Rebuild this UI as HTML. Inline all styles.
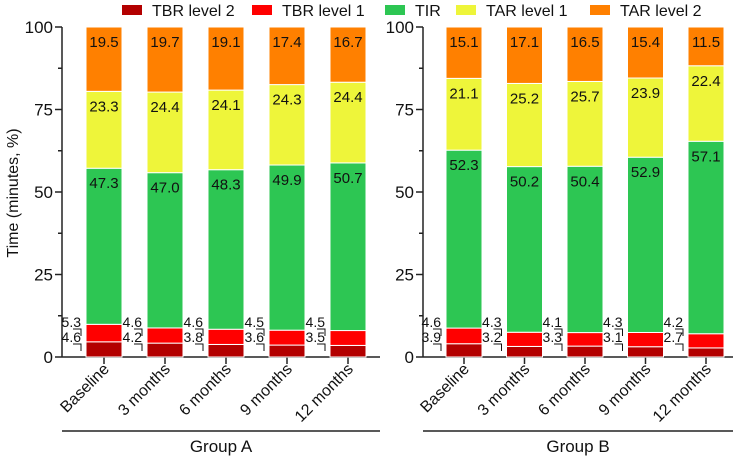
<!DOCTYPE html>
<html><head><meta charset="utf-8"><style>
body{margin:0;background:#fff}
svg{display:block;font-family:"Liberation Sans",Arial,sans-serif}
</style></head><body>
<svg id="chart" width="749" height="457" viewBox="0 0 749 457"></svg>
<script>
const categories=["Baseline","3 months","6 months","9 months","12 months"];
const groups=["Group A","Group B"];
const seriesNames=["TBR level 2","TBR level 1","TIR","TAR level 1","TAR level 2"];
const colors=["#b30000","#ff0000","#2dc653","#eef53a","#ff8000"];
const tbr2A=[4.6,4.2,3.8,3.6,3.5];
const tbr1A=[5.3,4.6,4.6,4.5,4.5];
const tirA=[47.3,47.0,48.3,49.9,50.7];
const tar1A=[23.3,24.4,24.1,24.3,24.4];
const tar2A=[19.5,19.7,19.1,17.4,16.7];
const tbr2B=[3.9,3.2,3.3,3.1,2.7];
const tbr1B=[4.6,4.3,4.1,4.3,4.2];
const tirB=[52.3,50.2,50.4,52.9,57.1];
const tar1B=[21.1,25.2,25.7,23.9,22.4];
const tar2B=[15.1,17.1,16.5,15.4,11.5];
const yTicks=[0,25,50,75,100];

const svg=document.getElementById('chart');
const NS="http://www.w3.org/2000/svg";
function mk(tag,attrs,text){const e=document.createElementNS(NS,tag);for(const k in attrs)e.setAttribute(k,attrs[k]);if(text!=null)e.textContent=text;svg.appendChild(e);return e;}
const y0=357,yScale=3.3;
function Y(v){return y0-v*yScale;}
const panels=[
 {axisX:62,first:104,step:61,lineEnd:380,data:[tbr2A,tbr1A,tirA,tar1A,tar2A]},
 {axisX:423,first:464,step:60.5,lineEnd:733,data:[tbr2B,tbr1B,tirB,tar1B,tar2B]}
];
const bw=36;
panels.forEach((p,pi)=>{
 let a=mk('line',{x1:p.axisX,y1:Y(100),x2:p.axisX,y2:y0,stroke:'#222','stroke-width':1.5});
 
 
 let xa=mk('line',{x1:p.axisX,y1:y0,x2:p.lineEnd,y2:y0,stroke:'#222','stroke-width':1.5});
 
 
 for(let v=0;v<=100;v+=12.5){
  const major=v%25===0;
  let t=mk('line',{x1:p.axisX-(major?7:4),y1:Y(v),x2:p.axisX,y2:Y(v),stroke:'#222','stroke-width':1.5});
  
  
 }
 yTicks.forEach(v=>{
  let t=mk('text',{x:p.axisX-9,y:Y(v)+6,'text-anchor':'end','font-size':17,fill:'#111'},String(v));
  
  
 });
 categories.forEach((c,i)=>{
  const cx=p.first+i*p.step;
  let tk=mk('line',{x1:cx,y1:y0,x2:cx,y2:y0+7,stroke:'#222','stroke-width':1.5});
  
  
  let total=0;p.data.forEach(s=>total+=s[i]);
  const k=100/total;
  let cum=0;
  p.data.forEach((s,si)=>{
   const v=s[i]*k;
   let r=mk('rect',{x:cx-bw/2,y:Y(cum+v),width:bw,height:v*yScale,fill:colors[si],stroke:'#fff','stroke-width':1});
   
   
   if(si>=2){
    let t=mk('text',{x:cx,y:Y(cum+v)+20,'text-anchor':'middle','font-size':15,fill:'#111'},s[i].toFixed(1));
    
    
   }
   cum+=v;
  });
  const lx=cx-bw/2-5;
  let t1=mk('text',{x:lx,y:327,'text-anchor':'end','font-size':14,fill:'#111'},p.data[1][i].toFixed(1));
  
  
  let t2=mk('text',{x:lx,y:342,'text-anchor':'end','font-size':14,fill:'#111'},p.data[0][i].toFixed(1));
  
  
  let b1=mk('path',{d:`M${lx-8} 329 L${lx} 329 L${lx} 336`,fill:'none',stroke:'#111','stroke-width':1});
  
  
  let b2=mk('path',{d:`M${lx-8} 344 L${lx} 344 L${lx} 351`,fill:'none',stroke:'#111','stroke-width':1});
  
  
  let cl=mk('text',{x:cx+6,y:370,'text-anchor':'end','font-size':16,fill:'#111',transform:`rotate(-45 ${cx+6} 370)`},c);
  
  
 });
 let gl=mk('line',{x1:p.axisX,y1:431,x2:p.lineEnd,y2:431,stroke:'#222','stroke-width':1.5});
 
 
 let gt=mk('text',{x:(p.axisX+p.lineEnd)/2,y:452,'text-anchor':'middle','font-size':17,fill:'#111'},groups[pi]);
 
 
});
let yt=mk('text',{x:18,y:193,'text-anchor':'middle','font-size':16,fill:'#111',transform:'rotate(-90 18 193)'},'Time (minutes, %)');


const legX=[122,252,385,456,590];
seriesNames.forEach((n,i)=>{
 let s=mk('rect',{x:legX[i],y:5,width:20,height:10,fill:colors[i]});
 
 
 let t=mk('text',{x:legX[i]+30,y:16,'font-size':16,fill:'#111'},n);
 
 
});
</script>
</body></html>
